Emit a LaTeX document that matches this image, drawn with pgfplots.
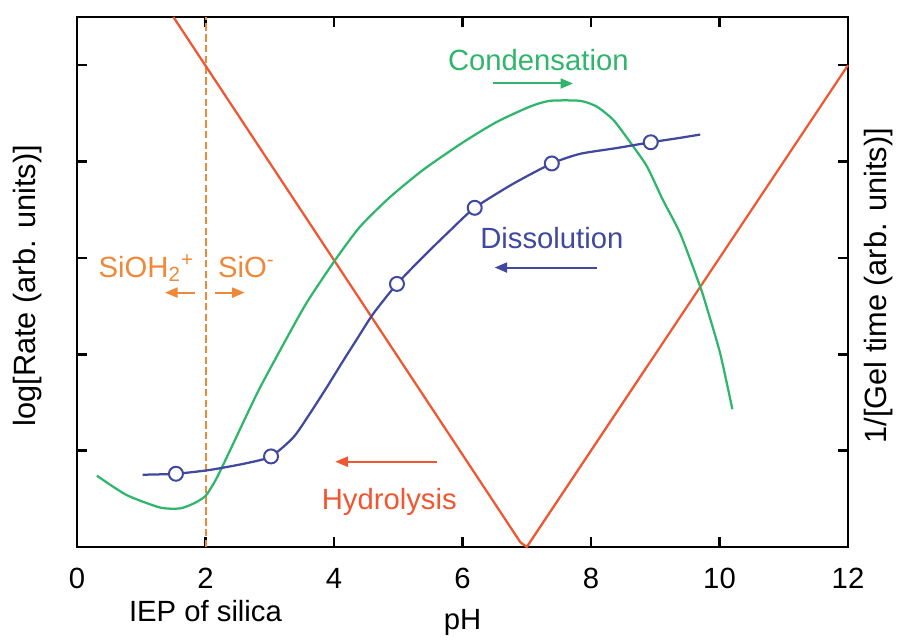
\documentclass[border=0pt]{standalone}
\usepackage{fontspec}
\setmainfont{Liberation Sans}
\usepackage{pgfplots}
\pgfplotsset{compat=1.18}
\usetikzlibrary{arrows.meta, calc}

\definecolor{cgreen}{RGB}{48,182,108}
\definecolor{cblue}{RGB}{64,72,160}
\definecolor{cred}{RGB}{240,86,48}
\definecolor{corange}{RGB}{240,136,58}

\begin{document}
\begin{tikzpicture}[font=\fontsize{11.7}{14}\selectfont,
    arr/.style={line width=0.8pt, -{Triangle[length=5pt,width=4pt]}}]
\begin{axis}[
    name=ax,
    scale only axis,
    width=308.4pt, height=212pt,
    xmin=0, xmax=12, ymin=0, ymax=5.5,
    xtick={0,2,...,12},
    ytick={1,2,3,4,5}, yticklabels={},
    tick pos=both, tick align=inside,
    major tick length=4pt,
    tick style={black, line width=1pt},
    axis line style={line width=1pt},
    /pgf/number format/assume math mode=true,
    xticklabel style={yshift=-5pt},
    clip=false,
]

% IEP of silica
\addplot[corange, line width=0.8pt, dash pattern=on 3pt off 1.3pt] coordinates {(2,0) (2,5.5)};

% Hydrolysis
\addplot[cred, line width=0.9pt] coordinates {
    (1.5,5.5) (6.9,0.05) (7.0,0.0) (12,5.0)
};

% Condensation
\addplot[cgreen, line width=0.9pt, smooth, tension=0.4] coordinates {
    (0.31,0.74) (0.77,0.54) (1.29,0.41) (1.60,0.40) (1.81,0.45) (2.0,0.53)
    (2.17,0.71) (2.38,1.00) (2.80,1.59) (3.16,2.04) (3.57,2.53) (4.02,2.98)
    (4.40,3.32) (4.87,3.63) (5.40,3.92) (6.01,4.20) (6.53,4.41) (7.05,4.57)
    (7.36,4.63) (7.83,4.63) (8.09,4.57) (8.35,4.43) (8.61,4.20) (8.87,3.95)
    (9.12,3.60) (9.39,3.25) (9.70,2.70) (9.80,2.49) (10.01,2.01) (10.20,1.43)
};

% Dissolution
\addplot[cblue, line width=0.9pt, smooth, tension=0.4] coordinates {
    (1.02,0.75) (1.54,0.76) (2.07,0.80) (2.64,0.87) (3.02,0.94) (3.37,1.14)
    (3.63,1.39) (3.89,1.66) (4.15,1.94) (4.35,2.15) (4.61,2.42) (4.98,2.73)
    (5.40,3.02) (5.80,3.28) (6.19,3.52) (6.79,3.77) (7.39,3.98) (7.83,4.08)
    (8.40,4.14) (8.93,4.20) (9.33,4.24) (9.70,4.28)
};
\addplot[only marks, mark=*, mark size=2.8pt,
    mark options={draw=cblue, fill=white, line width=0.8pt}] coordinates {
    (1.54,0.76) (3.02,0.94) (4.98,2.73) (6.19,3.52) (7.39,3.98) (8.93,4.20)
};

% annotations
\node[cgreen] at (axis cs:7.18,5.05) {Condensation};
\draw[cgreen, arr] (axis cs:6.48,4.81) -- (axis cs:7.72,4.81);
\node[cblue] at (axis cs:7.39,3.21) {Dissolution};
\draw[cblue, arr] (axis cs:8.10,2.90) -- (axis cs:6.50,2.90);
\node[cred] at (axis cs:4.86,0.47) {Hydrolysis};
\draw[cred, arr] (axis cs:5.60,0.885) -- (axis cs:4.02,0.885);
\node[corange, anchor=base west, inner sep=0pt] at (axis cs:0.33,2.80) {SiOH\textsubscript{2}\textsuperscript{+}};
\node[corange, anchor=base west, inner sep=0pt] at (axis cs:2.19,2.80) {SiO\textsuperscript{-}};
\draw[corange, arr] (axis cs:1.84,2.64) -- (axis cs:1.37,2.64);
\draw[corange, arr] (axis cs:2.15,2.64) -- (axis cs:2.61,2.64);

% labels
\node at (axis cs:2,0) [yshift=-25.6pt] {IEP of silica};
\node at (axis cs:6,0) [yshift=-30pt] {pH};
\end{axis}
\node[rotate=90, inner sep=0pt, font=\fontsize{12.3}{14}\selectfont] at ($(ax.west)+(-19.6pt,-1.5pt)$) {log[Rate (arb. units)]};
\node[rotate=90, inner sep=0pt, font=\fontsize{12.3}{14}\selectfont] at ($(ax.east)+(12.4pt,-1.5pt)$) {1/[Gel time (arb. units)]};
\path ($(ax.south west)+(-30.8pt,-36pt)$) rectangle ($(ax.north east)+(19.6pt,6.8pt)$);
\end{tikzpicture}
\end{document}
